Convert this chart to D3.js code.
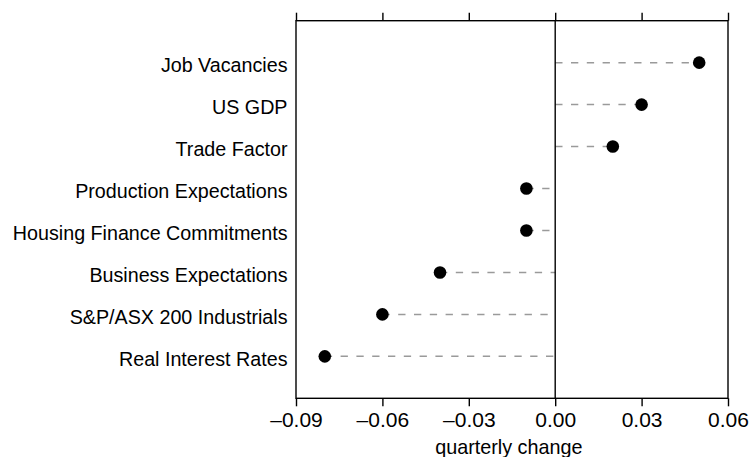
<!DOCTYPE html>
<html><head><meta charset="utf-8">
<script src="https://cdn.jsdelivr.net/npm/d3@7"></script>
<style>body{margin:0;background:#fff}</style>
</head><body>
<svg id="c" width="750" height="457"></svg>
<script>
const categories = ["Job Vacancies","US GDP","Trade Factor","Production Expectations","Housing Finance Commitments","Business Expectations","S&P/ASX 200 Industrials","Real Interest Rates"];
const values = [0.05,0.03,0.02,-0.01,-0.01,-0.04,-0.06,-0.08];
const tickValues = [-0.09,-0.06,-0.03,0.00,0.03,0.06];
const tickLabels = ["\u20130.09","\u20130.06","\u20130.03","0.00","0.03","0.06"];
const axisTitle = "quarterly change";

(function(){
const svg = d3.select("#c");
const L = 296, R = 728, T = 20.7, B = 398.3;
const x = d3.scaleLinear().domain([-0.09,0.06]).range([L,R]);
const y = d3.scalePoint().domain(categories).range([T,B]).padding(1);
const font = "'Liberation Sans', Arial, sans-serif";

// dashed lines
svg.append("g").selectAll("line").data(values).join("line")
  .attr("x1", d => x(Math.min(0,d))).attr("x2", d => x(Math.max(0,d)))
  .attr("y1", (d,i) => y(categories[i])).attr("y2", (d,i) => y(categories[i]))
  .attr("stroke", "#9a9a9a").attr("stroke-width", 1.5).attr("stroke-dasharray", "7.3,8.5");

// zero line
svg.append("line").attr("x1", x(0)).attr("x2", x(0)).attr("y1", T).attr("y2", B)
  .attr("stroke", "#000").attr("stroke-width", 1.4);

// frame
svg.append("rect").attr("x", L).attr("y", T).attr("width", R-L).attr("height", B-T)
  .attr("fill", "none").attr("stroke", "#000").attr("stroke-width", 1.4);

// axes
const fmt = d => tickLabels[tickValues.indexOf(d)];
const gBottom = svg.append("g").attr("transform", `translate(0,${B})`)
  .call(d3.axisBottom(x).tickValues(tickValues).tickFormat(fmt).tickSizeOuter(0).tickSize(8).tickPadding(6));
const gTop = svg.append("g").attr("transform", `translate(0,${T})`)
  .call(d3.axisTop(x).tickValues(tickValues).tickFormat("").tickSizeOuter(0).tickSize(8));
[gBottom, gTop].forEach(g => {
  g.select(".domain").remove();
  g.selectAll(".tick line").attr("stroke", "#000").attr("stroke-width", 1.4);
});
gBottom.selectAll(".tick text").attr("font-family", font).attr("font-size", 21).attr("fill", "#000")
  .attr("dy", null).attr("y", 28.4);

// category labels
svg.append("g").selectAll("text").data(categories).join("text")
  .attr("x", 287.5).attr("y", d => y(d) + 9.8)
  .attr("text-anchor", "end").attr("font-family", font).attr("font-size", 19.7).attr("fill", "#000")
  .text(d => d);

// dots
svg.append("g").selectAll("circle").data(values).join("circle")
  .attr("cx", d => x(d)).attr("cy", (d,i) => y(categories[i])).attr("r", 6.3).attr("fill", "#000");

// axis title
svg.append("text").attr("x", (435+582.7)/2).attr("y", 454).attr("text-anchor", "middle")
  .attr("font-family", font).attr("font-size", 19.8).attr("fill", "#000").text(axisTitle);
})();
</script>
</body></html>
